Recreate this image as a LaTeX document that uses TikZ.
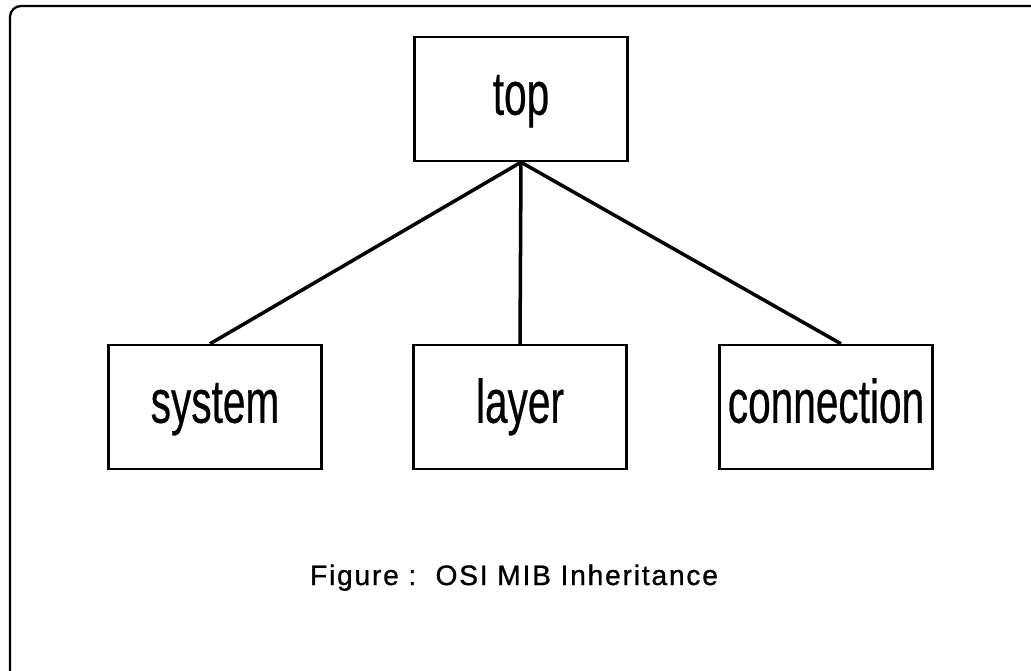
\documentclass[tikz,border=0pt]{standalone}
\usepackage{fontspec}
\setmainfont{Liberation Sans}
\newfontfamily\boxfont[FakeStretch=0.66, FakeBold=0.4]{Liberation Sans}
\newfontfamily\capfont[LetterSpace=6.5, FakeBold=1]{Liberation Sans}

\begin{document}
\begin{tikzpicture}
    [x=0.02cm, y=-0.02cm,
     class/.style={draw, line width=1.4pt, minimum width=4.26cm,
       minimum height=2.48cm, inner sep=0pt,
       font=\boxfont\fontsize{35}{40}\selectfont,
       text height=0.89cm, text depth=0.26cm},
     link/.style={line width=2pt}]
    \useasboundingbox (0, 0) rectangle (1031, 670);
    \clip (0, 0) rectangle (1031, 670);
    \draw[line width=1.3pt, rounded corners=0.22cm] (10, 6) rectangle (1045, 685);
    \node[class] (top) at (521, 99) {top};
    \node[class] (system) at (215, 407) {system};
    \node[class] (layer) at (520, 407) {layer};
    \node[class] (connection) at (826, 407) {connection};
    \draw[link] (top.south) -- ([xshift=-0.1cm]system.north);
    \draw[link] (top.south) -- (layer.north);
    \draw[link] (top.south) -- ([xshift=0.3cm]connection.north);
    \node[anchor=base, font=\capfont\fontsize{16}{19}\selectfont] (caption)
      at (514, 585) {Figure :\ \ OSI MIB Inheritance};
  \end{tikzpicture}
\end{document}
